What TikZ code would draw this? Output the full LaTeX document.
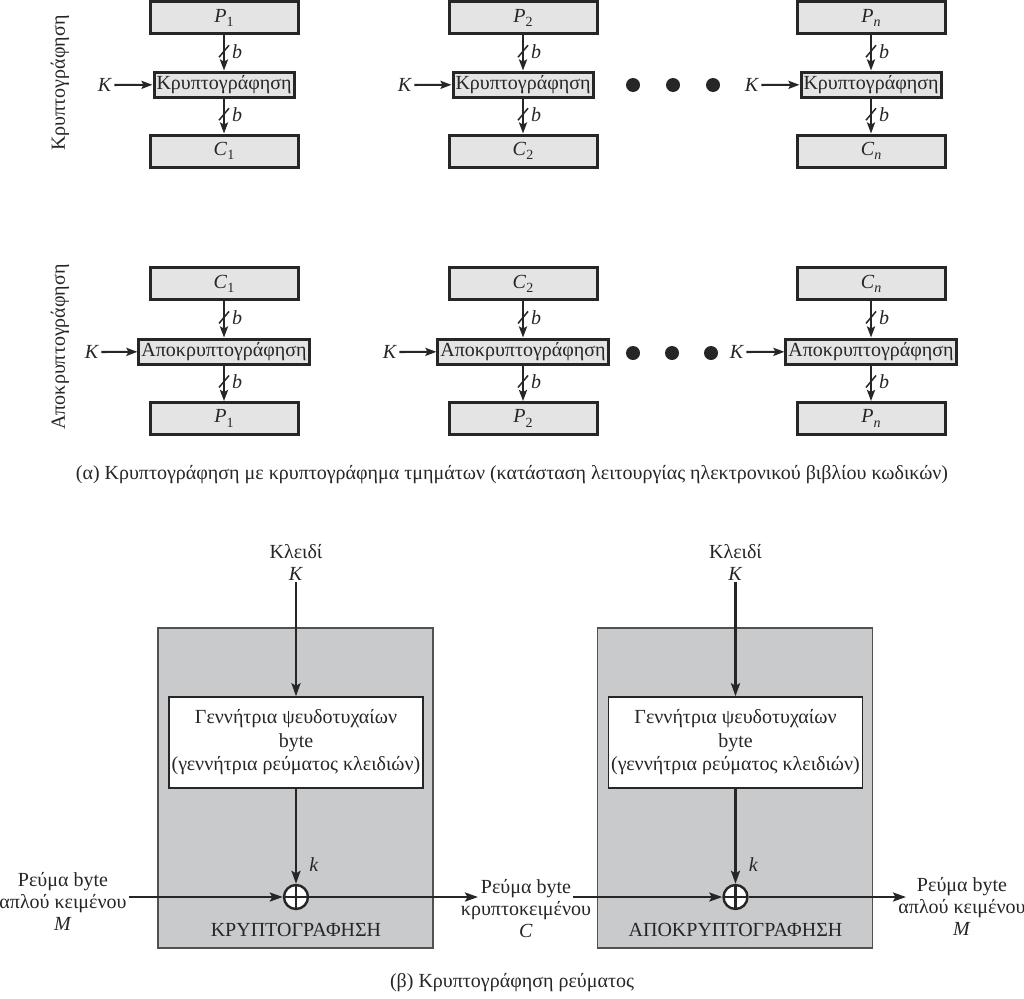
\documentclass[tikz,border=0pt]{standalone}
\usepackage{fontspec}
\setmainfont{Liberation Serif}
\usetikzlibrary{arrows.meta}
\definecolor{ink}{HTML}{262626}
\definecolor{lightbox}{HTML}{E4E4E4}
\definecolor{darkbox}{HTML}{C9CACC}
\newcommand{\sbs}[1]{\raisebox{-0.45ex}{\fontsize{14}{14}\selectfont #1}}
\newcommand{\busarrow}[3]{%
  \draw[arr] (#1) -- (#2) coordinate[pos=0.45] (#3m);
  \draw[slashln] ([shift={(-5,6)}]#3m) -- ([shift={(5,-6)}]#3m);
  \node[bl] (#3b) at ([xshift=8]#3m) {\textit{b}};}
\tikzset{
  blk/.style={rectangle, draw=ink, line width=3pt, fill=lightbox, minimum width=148pt, minimum height=32pt, inner sep=0pt},
  opbox/.style={rectangle, draw=ink, line width=3pt, fill=lightbox, minimum height=25pt, inner xsep=2.5pt, inner ysep=0pt},
  arr/.style={draw=ink, line width=2.1pt, -{Stealth[length=11pt,width=8pt,inset=2pt]}},
  arrb/.style={draw=ink, line width=2.4pt, -{Stealth[length=13pt,width=9pt,inset=2.5pt]}},
  slashln/.style={draw=ink, line width=1.5pt},
  bl/.style={anchor=west, inner sep=0pt},
  kl/.style={inner sep=2pt},
  dotn/.style={circle, fill=ink, minimum size=14pt, inner sep=0pt},
  gbox/.style={rectangle, draw=ink!80, line width=1.4pt, fill=darkbox, minimum width=275pt, minimum height=320pt, inner sep=0pt},
  wbox/.style={rectangle, draw=ink, line width=1.5pt, fill=white, minimum width=254pt, minimum height=91pt, inner sep=0pt, align=center, font=\fontsize{20}{23.5}\selectfont},
  txt/.style={align=center, inner sep=2pt, font=\fontsize{20}{22}\selectfont},
  xor/.style={circle, draw=ink, line width=2.4pt, fill=white, minimum size=24pt, inner sep=0pt,
    path picture={\draw[ink, line width=2.2pt] (path picture bounding box.north) -- (path picture bounding box.south) (path picture bounding box.west) -- (path picture bounding box.east);}},
}
\begin{document}
\begin{tikzpicture}[x=1pt, y=-1pt, font=\fontsize{20}{24}\selectfont, text=ink]
\useasboundingbox[fill=white] (0,0) rectangle (1024,998);

% ---------- side labels
\node[rotate=90] (lenc) at (60,83) {Κρυπτογράφηση};
\node[rotate=90] (ldec) at (60,347) {Αποκρυπτογράφηση};

% ---------- encryption row
\node[blk] (p1) at (224,18) {\textit{P}\sbs{1}};
\node[opbox] (e1) at (224,84.5) {Κρυπτογράφηση};
\node[blk] (c1) at (224,151) {\textit{C}\sbs{1}};
\node[kl] (k1) at (105,85) {\textit{K}};
\draw[arr] (k1) -- (e1);
\busarrow{p1}{e1}{ea1}
\busarrow{e1}{c1}{ea2}

\node[blk] (p2) at (523,18) {\textit{P}\sbs{2}};
\node[opbox] (e2) at (523,84.5) {Κρυπτογράφηση};
\node[blk] (c2) at (523,151) {\textit{C}\sbs{2}};
\node[kl] (k2) at (405,85) {\textit{K}};
\draw[arr] (k2) -- (e2);
\busarrow{p2}{e2}{eb1}
\busarrow{e2}{c2}{eb2}

\node[blk] (p3) at (871,18) {\textit{P}\sbs{\textit{n}}};
\node[opbox] (e3) at (871,84.5) {Κρυπτογράφηση};
\node[blk] (c3) at (871,151) {\textit{C}\sbs{\textit{n}}};
\node[kl] (k3) at (752,85) {\textit{K}};
\draw[arr] (k3) -- (e3);
\busarrow{p3}{e3}{ec1}
\busarrow{e3}{c3}{ec2}

\node[dotn] (da1) at (633,85) {};
\node[dotn] (da2) at (673,85) {};
\node[dotn] (da3) at (713,85) {};

% ---------- decryption row
\node[blk] (dc1) at (224,283.5) {\textit{C}\sbs{1}};
\node[opbox] (d1) at (224,351.5) {Αποκρυπτογράφηση};
\node[blk] (dp1) at (224,418.5) {\textit{P}\sbs{1}};
\node[kl] (dk1) at (92,352) {\textit{K}};
\draw[arr] (dk1) -- (d1);
\busarrow{dc1}{d1}{da1x}
\busarrow{d1}{dp1}{da2x}

\node[blk] (dc2) at (523,283.5) {\textit{C}\sbs{2}};
\node[opbox] (d2) at (523,351.5) {Αποκρυπτογράφηση};
\node[blk] (dp2) at (523,418.5) {\textit{P}\sbs{2}};
\node[kl] (dk2) at (390,352) {\textit{K}};
\draw[arr] (dk2) -- (d2);
\busarrow{dc2}{d2}{db1x}
\busarrow{d2}{dp2}{db2x}

\node[blk] (dc3) at (871,283.5) {\textit{C}\sbs{\textit{n}}};
\node[opbox] (d3) at (871,351.5) {Αποκρυπτογράφηση};
\node[blk] (dp3) at (871,418.5) {\textit{P}\sbs{\textit{n}}};
\node[kl] (dk3) at (737,352) {\textit{K}};
\draw[arr] (dk3) -- (d3);
\busarrow{dc3}{d3}{dc1x}
\busarrow{d3}{dp3}{dc2x}

\node[dotn] (db1) at (633,353) {};
\node[dotn] (db2) at (672,353) {};
\node[dotn] (db3) at (711,353) {};

\node (capa) at (512,475) {(α) Κρυπτογράφηση με κρυπτογράφημα τμημάτων (κατάσταση λειτουργίας ηλεκτρονικού βιβλίου κωδικών)};

% ---------- stream cipher
\node[gbox] (g1) at (295.5,788) {};
\node[gbox] (g2) at (735,788) {};
\node[wbox] (w1) at (296,742.5) {Γεννήτρια ψευδοτυχαίων\\byte\\(γεννήτρια ρεύματος κλειδιών)};
\node[wbox] (w2) at (735.5,742.5) {Γεννήτρια ψευδοτυχαίων\\byte\\(γεννήτρια ρεύματος κλειδιών)};
\node[txt] (key1) at (296,562) {Κλειδί\\\textit{K}};
\node[txt] (key2) at (735.5,562) {Κλειδί\\\textit{K}};
\draw[arrb] (key1) -- (w1);
\draw[arrb] (key2) -- (w2);

\node[xor] (x1) at (296,897) {};
\node[xor] (x2) at (735.5,897) {};
\draw[arrb] (w1) -- (x1);
\draw[arrb] (w2) -- (x2);
\node (kk1) at (314,865) {\textit{k}};
\node (kk2) at (753.5,865) {\textit{k}};

\node[txt] (min) at (63,901) {Ρεύμα byte\\απλού κειμένου\\\textit{M}};
\draw[arrb] (min.east |- x1) -- (x1);
\coordinate (cend) at (478,897);
\draw[arrb] (x1) -- (cend);
\node[txt] (cmid) at (526,909) {Ρεύμα byte\\κρυπτοκειμένου\\\textit{C}};
\coordinate (cstart) at (573,897);
\draw[arrb] (cstart) -- (x2);
\coordinate (mend) at (906,897);
\draw[arrb] (x2) -- (mend);
\node[txt] (mout) at (962,906) {Ρεύμα byte\\απλού κειμένου\\\textit{M}};

\node (lab1) at (296,930) {ΚΡΥΠΤΟΓΡΑΦΗΣΗ};
\node (lab2) at (735.5,930) {ΑΠΟΚΡΥΠΤΟΓΡΑΦΗΣΗ};

\node (capb) at (512,983) {(β) Κρυπτογράφηση ρεύματος};
\end{tikzpicture}
\end{document}
